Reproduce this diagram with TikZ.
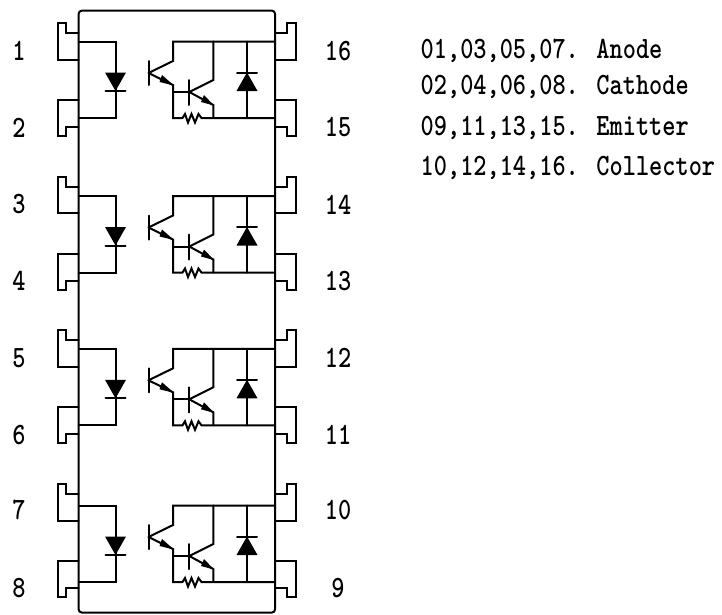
\documentclass[tikz,border=0pt]{standalone}
\usepackage{fontspec}
\newcommand{\cond}[1]{\scalebox{0.81}[1]{\ttfamily\bfseries\fontsize{31}{31}\selectfont #1}}
\tikzset{
  wire/.style={line width=2pt, line join=miter, line cap=round},
  pinlabel/.style={inner sep=0pt, anchor=center},
  legend/.style={inner sep=0pt, anchor=base west},
}
% #1 pin offset, #2 inner circuit offset (px from top)
\newcommand{\unit}[2]{%
 \begin{scope}[yshift=-#1pt]
  \draw[wire] (78.7,-33)--(66,-33)--(66,-23)--(57.5,-23)--(57.5,-59.7)--(78.7,-59.7);
  \draw[wire] (78.7,-100)--(57.5,-100)--(57.5,-136)--(66,-136)--(66,-127)--(78.7,-127);
  \draw[wire] (275,-33)--(287,-33)--(287,-23)--(296,-23)--(296,-59.7)--(275,-59.7);
  \draw[wire] (275,-100)--(296,-100)--(296,-136)--(287,-136)--(287,-127)--(275,-127);
 \end{scope}
 \begin{scope}[yshift=-#2pt]
  \draw[wire] (78.7,-41.5)--(115.5,-41.5)--(115.5,-118)--(78.7,-118);
  \fill (105,-72.5)--(126,-72.5)--(115.5,-91)--cycle;
  \draw[wire] (105.5,-91)--(125.5,-91);
  \draw[wire] (275,-41.5)--(173,-41.5)--(173,-61)--(148.5,-73);
  \draw[wire] (213.3,-41.5)--(213.3,-80)--(189.3,-92);
  \draw[wire] (247,-41.5)--(247,-118);
  \draw[wire] (148.5,-61)--(148.5,-85);
  \draw[wire] (189.3,-80)--(189.3,-105);
  \draw[wire] (148.5,-73)--(173,-85)--(173,-118)--(182.5,-118)--(185,-114)--(188,-122.5)--(191.5,-114)--(195,-122.5)--(198.5,-114)--(201.5,-118)--(275,-118);
  \draw[wire] (173,-92)--(189.3,-92);
  \draw[wire] (189.3,-92)--(213.3,-105)--(213.3,-118);
  \fill (174,-85.5)--(162,-75)--(159.5,-82)--cycle;
  \fill (214,-105.5)--(204,-95)--(201,-102)--cycle;
  \fill (236.5,-91)--(257.5,-91)--(247,-72.5)--cycle;
  \draw[wire] (237,-72.5)--(257,-72.5);
 \end{scope}}
\begin{document}
\begin{tikzpicture}[x=1pt,y=1pt]
\useasboundingbox (0,0) rectangle (722,-614);
\draw[wire,rounded corners=3pt] (78.7,-10.7) rectangle (275,-612.5);
\unit{0}{0}\unit{153.5}{154.5}\unit{307}{307.3}\unit{461}{464}
\foreach \n/\t/\x/\y in {a/1/19/-51,b/2/19/-127.5,c/3/19/-204.5,d/4/19/-281,e/5/19/-358,f/6/19/-435,g/7/19/-510,h/8/19/-588,
  i/16/338/-51,j/15/338/-127.5,k/14/338/-204.5,l/13/338/-281,m/12/338/-358,n/11/338/-435,o/10/338/-510,p/9/338/-588}
  \node[pinlabel] (\n) at (\x,\y) {\cond{\t}};
\node[legend] (l1) at (420.5,-58) {\cond{01,03,05,07. Anode}};
\node[legend] (l2) at (420.5,-94) {\cond{02,04,06,08. Cathode}};
\node[legend] (l3) at (420.5,-135) {\cond{09,11,13,15. Emitter}};
\node[legend] (l4) at (420.5,-175) {\cond{10,12,14,16. Collector}};
\end{tikzpicture}
\end{document}
